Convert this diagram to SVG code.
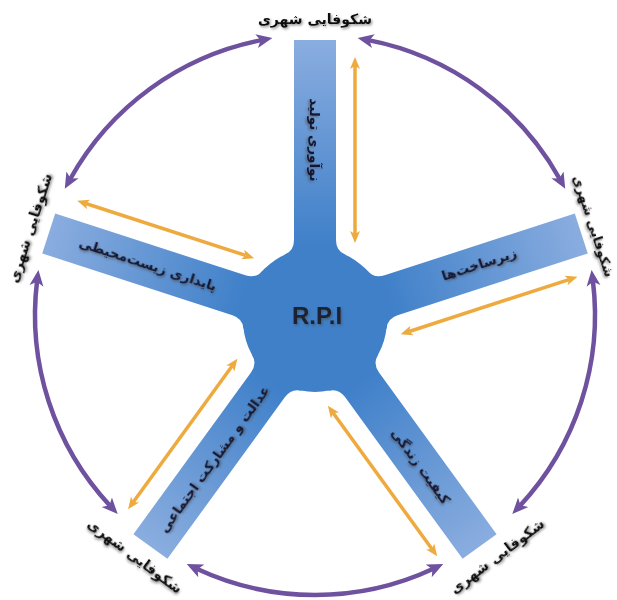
<svg xmlns="http://www.w3.org/2000/svg" width="617" height="600" viewBox="0 0 617 600">
<style>
.lbl{font-family:"DejaVu Sans","Noto Sans",sans-serif;font-weight:bold;font-size:14px;fill:#111;text-anchor:middle;filter:url(#sh)}
.at{font-family:"DejaVu Sans","Noto Sans",sans-serif;font-weight:bold;font-size:13.5px;fill:#121830;text-anchor:middle;filter:url(#sh)}
.arm{fill:url(#ag)}
.arc{fill:none;stroke:#6f529f;stroke-width:4.5;marker-start:url(#pm);marker-end:url(#pm)}
.oa{fill:none;stroke:#eeaa3e;stroke-width:3.5;marker-start:url(#om);marker-end:url(#om)}
</style>
<defs>
<linearGradient id="ag" gradientUnits="userSpaceOnUse" x1="0" y1="-75" x2="0" y2="-280"><stop offset="0" stop-color="#3f80c9"/><stop offset="1" stop-color="#8aaddf"/></linearGradient>
<filter id="sh" x="-20%" y="-60%" width="140%" height="220%"><feDropShadow dx="1.2" dy="1.5" stdDeviation="1.3" flood-color="#444" flood-opacity="0.6"/></filter>
<marker id="pm" markerUnits="userSpaceOnUse" markerWidth="16" markerHeight="16" viewBox="0 0 16 16" refX="5" refY="8" orient="auto-start-reverse"><path d="M0,1 L16,8 L0,15 L4,8 Z" fill="#6f529f"/></marker>
<marker id="om" markerUnits="userSpaceOnUse" markerWidth="12" markerHeight="10" viewBox="0 0 12 10" refX="3" refY="5" orient="auto-start-reverse"><path d="M0,0 L12,5 L0,10 L3,5 Z" fill="#eeaa3e"/></marker>
<path id="armshape" d="M-30.4,-65.3 Q-21,-69 -21,-80 L-21,-280 L21,-280 L21,-80 Q21,-69 30.4,-65.3 L0,0 Z"/>
</defs>
<rect width="617" height="600" fill="#fff"/>

<g id="arm-top"><use href="#armshape" class="arm" transform="translate(315,320)"/><text class="at" transform="translate(315,140) rotate(90)" dy="0.35em">نوآوری تولید</text></g>
<g id="arm-right"><use href="#armshape" class="arm" transform="translate(315,320) rotate(72)"/><text class="at" transform="translate(479,264) rotate(-18)" dy="0.35em">زیرساخت‌ها</text></g>
<g id="arm-lower-right"><use href="#armshape" class="arm" transform="translate(315,320) rotate(144)"/><text class="at" transform="translate(421,466) rotate(54)" dy="0.35em">کیفیت زندگی</text></g>
<g id="arm-lower-left"><use href="#armshape" class="arm" transform="translate(315,320) rotate(216)"/><text class="at" transform="translate(214,459) rotate(-54)" dy="0.35em">عدالت و مشارکت اجتماعی</text></g>
<g id="arm-left"><use href="#armshape" class="arm" transform="translate(315,320) rotate(288)"/><text class="at" transform="translate(148,264) rotate(18)" dy="0.35em">پایداری زیست‌محیطی</text></g>

<g id="hub"><circle cx="315" cy="320" r="72" fill="#3f80c9"/><text x="317" y="324" font-family="Liberation Sans, Arial, sans-serif" font-weight="bold" font-size="24" fill="#1b2130" text-anchor="middle" filter="url(#sh)">R.P.I</text></g>

<g id="label-top"><text class="lbl" transform="translate(315,19)" dy="0.35em">شکوفایی شهری</text></g>
<g id="label-right"><text class="lbl" transform="translate(594,226) rotate(72)" dy="0.35em" style="font-size:13px">شکوفایی شهری</text></g>
<g id="label-lower-right"><text class="lbl" transform="translate(497,556) rotate(-37)" dy="0.35em">شکوفایی شهری</text></g>
<g id="label-lower-left"><text class="lbl" transform="translate(135,556) rotate(37)" dy="0.35em">شکوفایی شهری</text></g>
<g id="label-left"><text class="lbl" transform="translate(30,228) rotate(-72)" dy="0.35em">شکوفایی شهری</text></g>

<g id="connectors">
<path class="arc" d="M368.43,40.14 A280,280 0 0 1 559.89,179.25"/>
<path class="arc" d="M592.91,280.88 A280,280 0 0 1 519.78,505.96"/>
<path class="arc" d="M433.33,568.77 A280,280 0 0 1 196.67,568.77"/>
<path class="arc" d="M110.22,505.96 A280,280 0 0 1 37.09,280.88"/>
<path class="arc" d="M70.11,179.25 A280,280 0 0 1 261.57,40.14"/>
<g transform="translate(315,320)">
<path class="oa" d="M40,-86 V-254"/>
<path class="oa" d="M40,-86 V-254" transform="rotate(72)"/>
<path class="oa" d="M40,-86 V-254" transform="rotate(144)"/>
<path class="oa" d="M40,-86 V-254" transform="rotate(216)"/>
<path class="oa" d="M40,-86 V-254" transform="rotate(288)"/>
</g>
</g>
</svg>
